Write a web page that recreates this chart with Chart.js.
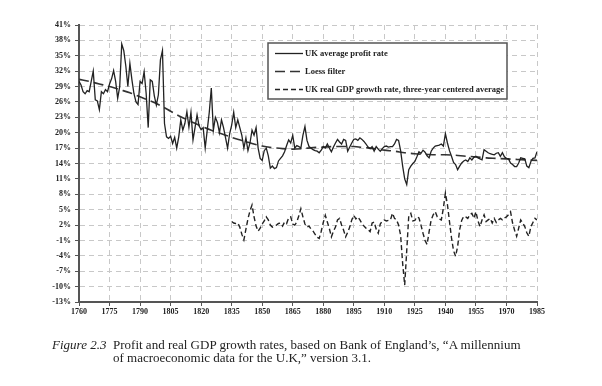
<!DOCTYPE html>
<html>
<head>
<meta charset="utf-8">
<script src="https://cdn.jsdelivr.net/npm/chart.js@4.4.1/dist/chart.umd.min.js"></script>
<style>
  body { margin: 0; background: #fff; }
  #wrap { position: relative; width: 602px; height: 386px; }
  #chart { position: absolute; left: 0; top: 0; }
  .cap { position: absolute; font-family: "Liberation Serif", serif; font-size: 13px; color: #222; white-space: nowrap; line-height: 1; }
  .fig { font-style: italic; }
</style>
</head>
<body>
<div id="wrap">
  <canvas id="chart" width="602" height="386"></canvas>
  <div class="cap fig" style="left:52px; top:338px;">Figure 2.3</div>
  <div class="cap" style="left:113px; top:338px;">Profit and real GDP growth rates, based on Bank of England’s, “A millennium</div>
  <div class="cap" style="left:113px; top:351px;">of macroeconomic data for the U.K,” version 3.1.</div>
</div>
<script>
// annual profit rate, 1760 onwards (%)
const profitStart = 1760;
const profitRate = [
  30.0, 29.3, 28.0, 27.6, 28.2, 28.0, 30.0, 32.0, 26.4, 26.2,
  24.5, 28.0, 27.6, 28.4, 28.0, 29.5, 30.5, 32.1, 30.0, 26.7,
  29.0, 37.3, 36.0, 33.0, 29.0, 33.5, 30.3, 27.6, 26.0, 25.5,
  30.0, 29.6, 31.9, 27.6, 21.0, 30.3, 30.0, 27.2, 25.4, 27.4,
  34.2, 36.0, 21.8, 19.2, 18.9, 19.3, 17.9, 19.1, 17.0, 19.2,
  22.5, 20.5, 21.8, 24.1, 21.1, 24.0, 18.6, 21.0, 23.5, 21.3,
  20.6, 21.0, 17.0, 20.5, 24.0, 28.7, 20.5, 23.0, 22.0, 20.0,
  22.5, 21.0, 19.0, 17.0, 19.8, 21.5, 24.0, 21.0, 22.5, 21.0,
  19.5, 17.0, 19.0, 16.5, 18.0, 20.5, 19.5, 21.0, 17.0, 15.0,
  14.6, 16.5, 17.0, 15.5, 13.1, 13.5, 13.0, 13.2, 14.5, 15.0,
  15.5, 16.3, 17.5, 18.6, 18.0, 19.5, 17.0, 17.5, 17.3, 17.0,
  19.5, 21.2, 18.5, 17.3, 17.0, 16.7, 16.5, 16.4, 16.1, 16.6,
  17.3, 17.0, 17.8, 17.0, 16.3, 17.2, 18.0, 18.7, 18.2, 17.8,
  18.7, 18.5, 16.4, 17.2, 18.0, 18.7, 18.8, 18.5, 19.0, 18.7,
  18.3, 17.8, 17.2, 16.9, 17.3, 16.4, 17.3, 16.8, 16.4, 16.9,
  17.3, 17.4, 17.2, 17.3, 17.3, 17.8, 18.7, 18.5, 16.5, 13.5,
  11.0, 9.9, 12.8, 13.5, 14.0, 14.4, 15.3, 16.3, 16.0, 16.6,
  16.2, 15.5, 15.1, 16.4, 17.0, 17.4, 17.5, 17.6, 17.8, 17.4,
  19.8, 18.0, 16.5, 15.4, 14.2, 13.8, 12.8, 13.5, 14.1, 14.5,
  14.7, 14.4, 15.1, 14.7, 15.2, 15.4, 15.1, 14.9, 14.7, 16.7,
  16.4, 16.1, 15.9, 15.8, 15.7, 16.0, 16.1, 15.4, 16.1, 15.3,
  15.0, 14.9, 14.1, 13.8, 13.4, 13.4, 14.1, 15.1, 15.0, 14.9,
  13.5, 13.2, 14.4, 15.0, 15.1, 16.3
];

// loess trend, read every 5 years
const loessYears = [
  1760, 1765, 1770, 1775, 1780, 1785, 1790, 1795, 1800, 1805,
  1810, 1815, 1820, 1825, 1830, 1835, 1840, 1845, 1850, 1855,
  1860, 1865, 1870, 1875, 1880, 1885, 1890, 1895, 1900, 1905,
  1910, 1915, 1920, 1925, 1930, 1935, 1940, 1945, 1950, 1955,
  1960, 1965, 1970, 1975, 1980, 1985
];
const loessValues = [
  30.4, 30.0, 29.5, 29.0, 28.4, 27.8, 27.0, 26.2, 25.3, 24.2,
  23.1, 22.2, 21.3, 20.5, 19.8, 19.1, 18.5, 17.9, 17.4, 17.1,
  16.9, 16.8, 16.9, 17.1, 17.2, 17.3, 17.3, 17.3, 17.1, 16.9,
  16.6, 16.4, 16.1, 15.9, 15.8, 15.7, 15.7, 15.6, 15.4, 15.3,
  15.1, 15.0, 14.9, 14.8, 14.7, 14.6
];

// real GDP growth, 3-year centred average, 1835 onwards (%)
const gdpStart = 1835;
const gdpGrowth = [
  2.7, 2.4, 2.3, 2.4, 1.6, 0.2, -0.9, 1.2, 3.2, 4.8,
  5.9, 3.6, 1.8, 0.8, 1.4, 2.2, 2.8, 3.6, 3.0, 2.0,
  1.6, 1.8, 2.0, 2.3, 2.4, 1.8, 2.6, 2.3, 3.4, 3.6,
  2.2, 2.0, 2.6, 3.8, 5.2, 3.6, 2.2, 1.6, 1.8, 1.2,
  0.8, 0.2, -0.4, -0.6, 0.8, 2.5, 3.9, 2.6, 1.3, -0.3,
  0.8, 1.6, 3.0, 3.3, 2.0, 1.0, -0.3, 0.6, 1.6, 3.0,
  3.9, 3.2, 3.6, 3.0, 2.3, 1.8, 1.4, 1.1, 0.7, 2.4,
  2.6, 1.2, 0.4, 2.2, 2.8, 3.0, 2.8, 2.9, 3.0, 4.3,
  3.3, 3.0, 2.0, 0.0, -5.5, -9.7, -3.0, 3.8, 4.3, 2.8,
  2.9, 3.6, 3.4, 2.0, 0.4, -1.0, -1.8, 0.7, 3.0, 4.0,
  4.6, 3.6, 3.2, 3.0, 5.3, 8.2, 6.0, 2.7, -0.5, -3.0,
  -4.1, -2.2, 1.1, 2.9, 3.7, 3.6, 3.3, 4.0, 4.3, 3.3,
  4.6, 2.8, 1.7, 3.0, 4.0, 2.7, 3.0, 3.3, 2.4, 3.3,
  2.5, 3.0, 3.3, 3.0, 3.4, 3.6, 4.0, 4.6, 2.4, 1.0,
  -0.2, 1.4, 3.0, 2.4, 1.7, 0.5, -0.2, 1.7, 2.5, 3.3,
  3.0
];

const tickFont = { family: 'Liberation Serif', size: 8, weight: 'bold' };

// legend drawn as a boxed panel inside the plot
const boxLegend = {
  id: 'boxLegend',
  afterDraw(chart) {
    const ctx = chart.ctx;
    ctx.save();
    ctx.fillStyle = '#fff';
    ctx.fillRect(268, 43, 239, 56);
    ctx.strokeStyle = '#555';
    ctx.lineWidth = 1.5;
    ctx.strokeRect(268, 43, 239, 56);
    chart.data.datasets.forEach((ds, i) => {
      const y = 53.5 + i * 18;
      ctx.beginPath();
      ctx.setLineDash(ds.borderDash || []);
      ctx.strokeStyle = ds.borderColor;
      ctx.lineWidth = ds.borderWidth;
      ctx.moveTo(275, y);
      ctx.lineTo(303, y);
      ctx.stroke();
      ctx.setLineDash([]);
      ctx.fillStyle = '#222';
      ctx.font = 'bold 8.5px "Liberation Serif"';
      ctx.textBaseline = 'middle';
      ctx.fillText(ds.label, 305, y);
    });
    ctx.restore();
  }
};

new Chart(document.getElementById('chart'), {
  type: 'line',
  data: {
    datasets: [
      {
        label: 'UK average profit rate',
        data: profitRate.map((v, i) => ({ x: profitStart + i, y: v })),
        borderColor: '#222',
        borderWidth: 1.3,
        pointRadius: 0,
        tension: 0
      },
      {
        label: 'Loess filter',
        data: loessYears.map((yr, i) => ({ x: yr, y: loessValues[i] })),
        borderColor: '#333',
        borderWidth: 1.6,
        borderDash: [10, 5],
        pointRadius: 0,
        cubicInterpolationMode: 'monotone'
      },
      {
        label: 'UK real GDP growth rate, three-year centered average',
        data: gdpGrowth.map((v, i) => ({ x: gdpStart + i, y: v })),
        borderColor: '#222',
        borderWidth: 1.4,
        borderDash: [5, 3],
        pointRadius: 0,
        tension: 0
      }
    ]
  },
  options: {
    responsive: false,
    animation: false,
    layout: { padding: { top: 25, right: 65, bottom: 0, left: 0 } },
    plugins: { legend: { display: false }, tooltip: { enabled: false } },
    scales: {
      x: {
        type: 'linear',
        min: 1760,
        max: 1985,
        afterFit: (scale) => { scale.height = 84; },
        ticks: {
          stepSize: 15,
          autoSkip: false,
          maxRotation: 0,
          padding: 1,
          color: '#222',
          font: tickFont,
          callback: (v) => String(v)
        },
        grid: { color: '#c8c8c8', lineWidth: 1, tickLength: 4, tickColor: '#555' },
        border: { color: '#555', width: 2, dash: [5, 4] }
      },
      y: {
        min: -13,
        max: 41,
        afterFit: (scale) => { scale.width = 79; },
        ticks: {
          stepSize: 3,
          padding: 4,
          color: '#222',
          font: tickFont,
          callback: (v) => v + '%'
        },
        grid: { color: '#c8c8c8', lineWidth: 1, tickLength: 4, tickColor: '#555' },
        border: { color: '#555', width: 2, dash: [5, 4] }
      }
    }
  },
  plugins: [boxLegend]
});
</script>
</body>
</html>
